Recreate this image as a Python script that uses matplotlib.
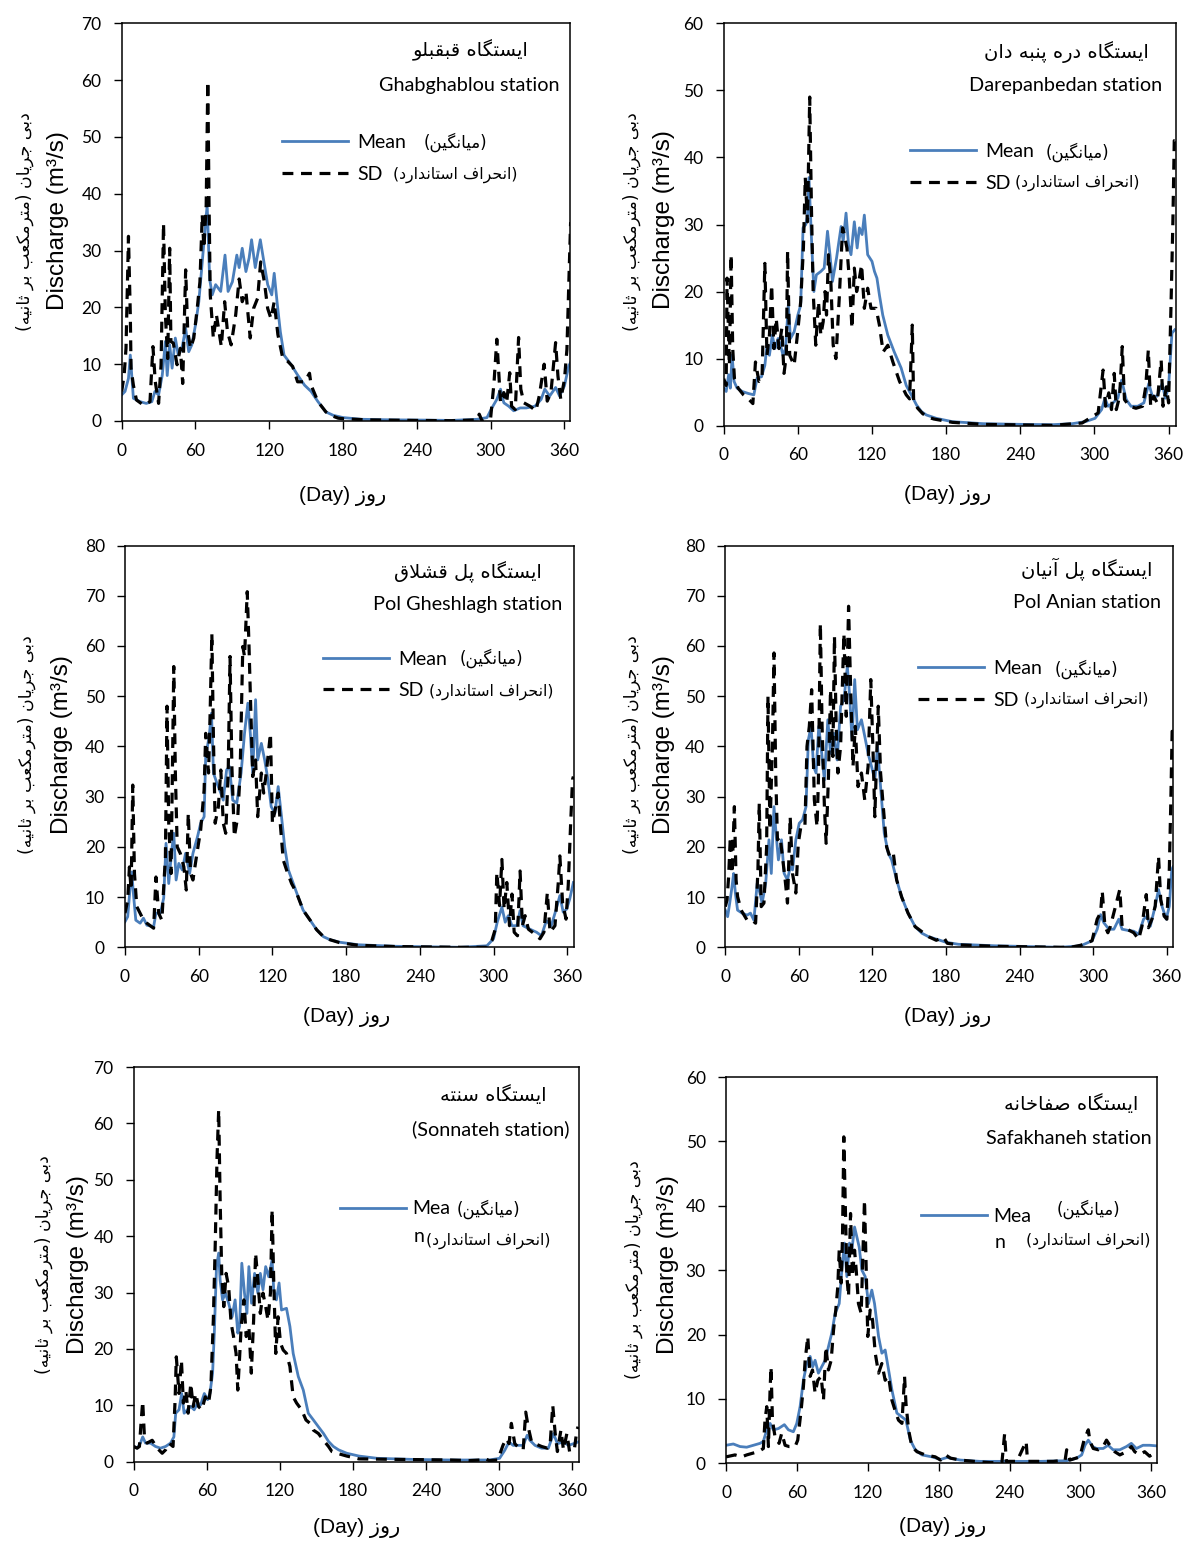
import matplotlib
matplotlib.use("Agg")
import matplotlib.pyplot as plt
from matplotlib import font_manager
from matplotlib.ft2font import FT2Font
from matplotlib.font_manager import FontProperties

W, H = 1184, 1542

# ---------------- data ----------------
ghab_mean_days = [0, 2.7, 5.5, 7, 9.5, 15, 20, 24.5, 27, 30,
                  33, 35.5, 37, 39, 41, 43.6, 46, 49, 52, 54.5,
                  57, 60, 62.7, 65.5, 67.6, 69.5, 71.5, 73.6, 76.4, 80.5,
                  84, 86.5, 90, 93.6, 95.5, 98, 101, 103.6, 105.6, 108.6,
                  112.7, 116, 118.7, 122, 124, 126.3, 129, 132, 137.8, 143,
                  148.7, 154, 159.6, 166, 172, 180, 195, 220, 250, 268,
                  289, 297, 301, 305, 308, 310.7, 314.7, 318.7, 324, 329,
                  336, 341, 344, 348, 352.8, 356, 360, 363.5, 365]
ghab_mean = [4.6, 5.2, 7.5, 11.6, 4.0, 3.4, 3.1, 3.4, 5.2, 4.6,
             8.1, 14, 8, 13.4, 9.3, 14.6, 11.6, 12.8, 16.3, 12.2,
             13.4, 16.9, 21, 28, 33.4, 38, 25, 22.2, 24, 22.8,
             29.2, 22.8, 24.5, 29.2, 27, 30.4, 26.3, 28.7, 31.9, 27,
             31.9, 27.5, 24, 22.2, 26, 21, 15.7, 11.6, 9.9, 8.1,
             6.3, 5.2, 3.4, 1.6, 1.0, 0.6, 0.3, 0.2, 0.15, 0.1,
             0.3, 0.6, 2.3, 3.8, 5.6, 3.2, 2.6, 1.8, 2.3, 2.3,
             2.6, 3.8, 5.6, 4.4, 5.9, 4.4, 6.2, 9.7, 10.3]
ghab_sd_days = [0, 2, 3.5, 5.5, 7, 7.6, 9.5, 12, 17.7, 23,
                25.4, 27.3, 30, 32, 34, 35.5, 37.4, 39, 40, 42,
                45, 47.7, 49.6, 52, 53.7, 56, 58.6, 61.4, 63.6, 65.5,
                66.8, 68.7, 70, 71, 72, 74.5, 77, 81, 83.7, 86,
                89, 92.7, 95.5, 98, 101, 104.5, 107.2, 110.5, 113, 116,
                118.7, 121.4, 124, 127, 131, 135, 139, 143, 148.7, 152.7,
                154, 159.6, 166, 170, 176, 180, 200, 240, 268, 289,
                290.7, 293, 300, 302.7, 305, 308, 310.7, 313, 315.5, 317,
                320, 322.7, 324.5, 327, 332, 336.8, 339.5, 343.5, 346, 349,
                352.8, 354.7, 357, 360, 362, 363.5, 365]
ghab_sd = [5.2, 8.1, 12.8, 32.5, 18.7, 9.3, 6.3, 3.7, 2.8, 3.4,
           13.1, 6.9, 3.1, 9.9, 34.8, 18.7, 11, 30.4, 14, 13.7,
           9.9, 12.8, 6.6, 26.6, 15.7, 12.8, 14.6, 19.8, 24.5, 36.3,
           30.4, 38, 59.8, 38.6, 22.2, 14.6, 18.7, 13.1, 21, 15.7,
           13.4, 18.7, 25, 21, 22.8, 14.6, 19.8, 21.6, 28, 24.5,
           19.8, 18, 21, 15.2, 11, 10.5, 9.6, 6.9, 6.9, 8.4,
           6.3, 3.4, 1.6, 1.0, 0.5, 0.4, 0.2, 0.1, 0.05, 0.2,
           1.2, 0, 0.6, 6.7, 14.4, 3.2, 5, 3.2, 8.5, 2.6,
           2, 14.7, 5.6, 3.2, 2.6, 1.8, 4.4, 10, 3.5, 5,
           13.8, 7.9, 3.8, 7.3, 12.6, 24, 35]

dare_mean_days = [0, 2, 4, 5.4, 6.8, 8.4, 10.8, 15, 20, 24.4,
                  27, 30.6, 33.3, 35, 37, 39.3, 41.5, 44, 46, 48,
                  50, 52.3, 54, 57, 60, 62.3, 64.2, 66.4, 67.8, 69,
                  71, 73, 75, 78.6, 81.3, 84, 86, 88, 91.3, 95,
                  96.7, 99, 101, 103, 105.7, 108, 109.8, 112, 113.8, 116.5,
                  120, 122, 124, 126, 128.7, 132.8, 138, 143.6, 147.7, 151.8,
                  156, 160, 164, 172, 185, 210, 240, 266, 282, 292.6,
                  300.5, 305.8, 308.5, 311, 315, 319, 322, 325.7, 329.6, 335,
                  340, 344, 346.8, 350.8, 354.8, 357.4, 360, 362.7, 365]
dare_mean = [5.6, 5.1, 7.6, 5.6, 10.5, 6.6, 5.6, 5.1, 4.8, 4.6,
             7.1, 7.3, 9, 12, 10.5, 13.5, 11.5, 13, 12, 10.5,
             11.5, 18, 13, 14, 16.5, 18, 29.5, 30, 31.4, 37,
             28, 20, 22.5, 23, 23.5, 29, 25.5, 21.5, 25, 29.7,
             27.5, 31.7, 27, 25.5, 30.4, 26.5, 29.5, 28.5, 31.4, 25.5,
             24.5, 23, 22, 19.5, 16.5, 13.5, 11, 8.6, 6, 4.6,
             3.1, 2.1, 1.6, 1.1, 0.6, 0.3, 0.2, 0.15, 0.3, 0.6,
             1.1, 2.4, 4.1, 2.9, 3.4, 4.1, 6.8, 3.9, 2.9, 2.9,
             3.4, 6.3, 4.4, 4.4, 6.3, 4.1, 5.8, 13.8, 14.3]
dare_sd_days = [0, 2, 2.7, 4.6, 6, 7.3, 8.7, 11.7, 16, 20,
                23.6, 25.7, 28.5, 31, 33.3, 35, 37, 38.8, 40.6, 42.5,
                44.7, 47, 48.8, 50.7, 51.7, 53.4, 57, 59.6, 62.3, 64.5,
                66, 67.8, 69.6, 71, 72.4, 74.5, 76.7, 78.6, 80.5, 82,
                83.2, 84.8, 86.7, 88.6, 90.8, 93.5, 96.2, 97.6, 99.7, 101.6,
                103.8, 105.7, 107.6, 109.8, 111.6, 113.8, 116.5, 119.2, 123.3, 126,
                129, 132.8, 136.9, 142.3, 147.7, 150.4, 152.6, 153.7, 157, 161,
                165, 170, 185, 210, 266, 290, 303, 307, 309, 311.6,
                313.8, 316, 317.7, 320.4, 322.5, 324.3, 328.3, 333.6, 338.9, 341.5,
                343.6, 345.5, 348, 350.8, 354, 355.5, 358.2, 360, 362, 363.5,
                364.6, 365]
dare_sd = [7, 6, 22, 9, 25.5, 11.5, 7, 5.6, 4.6, 4,
           3.3, 9.5, 6.6, 7, 24.2, 10.5, 13.5, 21, 11.5, 16,
           11.5, 14.5, 7.8, 10.5, 26, 10.5, 9, 13.5, 18.5, 26.5,
           37, 30.4, 49, 32.4, 20, 12, 18.5, 13.5, 15.5, 20,
           16.5, 25.5, 21.5, 12, 10, 19, 29.5, 28.5, 26.5, 22,
           14.5, 23.5, 20, 22, 24, 17.5, 20.5, 17.5, 17.5, 15,
           11, 12, 9.5, 6.6, 4.6, 4, 15, 3.6, 2.6, 1.8,
           1.3, 1.0, 0.5, 0.2, 0.05, 0.4, 1.9, 8.3, 2.9, 4.9,
           2.4, 7.8, 2.4, 4.4, 11.8, 3.9, 2.9, 2.6, 2.9, 5.8,
           11.3, 2.9, 4.4, 3.4, 9.8, 2.9, 5.8, 3.4, 18.2, 30.6,
           42.5, 42.5]

pol_mean_days = [0, 2.2, 4, 5.5, 6.8, 8.8, 12.3, 15, 17.8, 23.3,
                 25.2, 28.8, 31.5, 33.4, 35.6, 37.8, 39.7, 41.6, 43.8, 46.6,
                 49.3, 52.6, 55.3, 59, 61.6, 64.4, 65.7, 68.5, 70.4, 72,
                 74.8, 78, 80, 82.7, 85, 87.7, 91, 94.5, 97.3, 100,
                 102, 104, 106.3, 108, 111, 113.7, 116.4, 119, 122, 124.7,
                 127.4, 130, 133, 137, 141, 145, 150.7, 156, 161.6, 167,
                 175, 190, 220, 273, 294.6, 300, 303, 306.8, 309.5, 312,
                 315, 319, 321.6, 324, 329.7, 335, 339, 343, 347, 351,
                 354, 356.7, 359.5, 362, 365]
pol_mean = [5.1, 6.1, 11.4, 15, 10.8, 5.4, 4.8, 5.8, 4.4, 4.1,
            6.8, 6.8, 9.8, 20.7, 12.7, 18.7, 22.7, 13.4, 16.7, 15.4,
            18.7, 14.7, 18.7, 22, 24.7, 26, 38, 42, 46.6, 34.7,
            32.7, 30.7, 29.3, 35.3, 36, 29.3, 28.7, 34.7, 42.6, 48.6,
            42.6, 34.7, 49.3, 37.3, 40.6, 37.3, 33.3, 28, 26.7, 32,
            26, 20, 15.4, 12.7, 10, 7.4, 5.4, 3.5, 2.1, 1.5,
            1.0, 0.5, 0.2, 0, 0.3, 1.7, 5, 8, 5, 6.3,
            4.3, 4.3, 7.3, 4.3, 3.6, 3, 2.3, 5.3, 4.3, 7.6,
            10.3, 7, 7.6, 9.6, 12.9]
pol_sd_days = [0, 2.2, 3.6, 5, 6.3, 7.7, 9.6, 13.7, 17.8, 23.3,
               25.2, 27.4, 30, 32.9, 34.2, 35.6, 37.5, 39.7, 41, 42.5,
               45, 47.9, 49.9, 51.5, 53.4, 55.3, 59, 61.6, 64.4, 65.7,
               68, 69.3, 70.7, 72, 73.4, 76, 78, 80, 82, 84,
               85.5, 87, 89, 91.8, 93.7, 95.9, 97.3, 99.5, 100.8, 102,
               104, 106.3, 108, 111, 112.9, 115, 118.4, 120, 122.7, 124.7,
               126.6, 128.8, 131.5, 135.6, 139.7, 145, 150.7, 156, 161.6, 167,
               175, 190, 220, 273, 294.6, 298.6, 301.4, 302.7, 304.9, 306.8,
               308.6, 310.8, 313, 315, 316.8, 319.5, 321.6, 323.5, 325.7, 328.4,
               333.8, 337.8, 341, 343.8, 346, 350, 352.7, 354, 356.2, 359,
               360.8, 362.7, 364.3, 365]
pol_sd = [6.8, 9.4, 16, 11.4, 32.3, 14.7, 8.1, 6.1, 4.8, 3.8,
          14, 6.8, 5.4, 18, 48, 24.7, 14.7, 55.9, 34.7, 20,
          18.7, 16, 11.4, 26.7, 14.7, 13.4, 19.4, 23.4, 31.3, 42.6,
          34.7, 46.6, 62.5, 41.3, 24.7, 28, 35.3, 24.7, 22.7, 34.7,
          57.9, 36, 22, 26, 34.7, 59.9, 57.9, 70.8, 61.2, 50.6,
          34, 37.3, 26, 34.7, 30.7, 34.7, 42.6, 24.7, 28, 30.7,
          24, 17.4, 15.4, 12.7, 10.8, 7.4, 5.4, 3.5, 2.1, 1.5,
          0.9, 0.4, 0.15, 0, 0, 1.3, 3.6, 14.9, 8.3, 17.5,
          7.6, 12.9, 4.3, 10.6, 3, 2.3, 15.2, 4.3, 6.3, 3.6,
          2.6, 1.7, 3, 10.9, 3, 4.3, 12.9, 18.2, 8.9, 5.6,
          12.3, 24.2, 33.4, 34]

anian_mean_days = [0, 1.9, 3.6, 5.5, 6.8, 8.2, 10, 13.7, 17.8, 20.5,
                   23.3, 26, 28.2, 30, 32.9, 35.6, 37.5, 39.7, 41.6, 43.3,
                   45.8, 48, 50.7, 52.9, 54.8, 57.5, 60.3, 63, 65.8, 67.7,
                   69.9, 72, 74, 76.2, 78.6, 80.8, 83.6, 85.8, 88.5, 91.2,
                   94, 96.7, 99.5, 101.4, 103.3, 105.5, 107.7, 111, 113.7, 116.4,
                   119.2, 121.9, 124.1, 126.8, 129.6, 132.9, 135.6, 139.7, 143.8, 149,
                   154.8, 160.3, 165.8, 175, 180, 190, 220, 273.5, 289.7, 299,
                   303.2, 306, 308.6, 312.7, 316.8, 320.8, 323.5, 327.6, 333, 337,
                   341, 343.8, 346.5, 350.5, 353.2, 356, 359.5, 362, 364, 365]
anian_mean = [7.4, 6.1, 8.8, 12.1, 14.7, 10.8, 7.4, 6.8, 6.4, 6.8,
              5.4, 12.7, 10.8, 8.8, 12.7, 21.4, 14.7, 28, 22, 17.4,
              21.4, 14.7, 13.4, 16, 15.4, 21.4, 24.7, 25.4, 28, 41.3,
              44, 36, 34.7, 44, 38.6, 33.3, 45.3, 38.6, 42.6, 37.3,
              48, 49.3, 55.9, 50, 41.3, 53.3, 43.3, 45.3, 42, 38.6,
              36, 33.3, 40, 31.3, 22.7, 18.7, 17.4, 13.4, 10, 6.8,
              4.1, 2.8, 2.1, 1.4, 1.0, 0.6, 0.3, 0, 0.3, 1.3,
              3.6, 6.5, 4.9, 3.6, 3.6, 5.6, 3.6, 3.4, 3.2, 2.6,
              5.6, 6.2, 4.2, 8.2, 11.5, 8.2, 5.6, 8.2, 15.5, 16]
anian_sd_days = [0, 1.4, 2.7, 4.1, 5.5, 7.4, 8.8, 10, 12.9, 17.8,
                 21.9, 24.7, 26.6, 27.7, 29.3, 31.5, 33.7, 34.8, 36.4, 38.4,
                 39.7, 41.1, 42.5, 44.7, 46.6, 48.8, 50.7, 52.9, 54.8, 57.5,
                 59.5, 61.6, 64.9, 66.6, 68.5, 70.4, 72.6, 74.8, 75.9, 77.5,
                 78.9, 80.8, 82.2, 84.1, 85.8, 87.7, 89, 90.4, 91.8, 94,
                 96.7, 98.6, 100.5, 102.2, 104.1, 106, 108.2, 111, 113.7, 116.4,
                 118.6, 120.5, 121.9, 124.7, 126.6, 128.8, 131.5, 134.2, 137, 139.7,
                 143.8, 149, 154.8, 160.3, 165.8, 172, 178, 181, 190, 220,
                 273.5, 281.6, 289.7, 299, 303.2, 306, 307.3, 309.5, 311.9, 314,
                 321.6, 323.5, 327.6, 333, 337, 339.7, 343.2, 345, 347.8, 350.5,
                 353.2, 355, 357.8, 360, 362, 363.2, 364.3, 365]
anian_sd = [8.1, 9.4, 14, 22, 14.7, 28, 13.4, 10.1, 7.4, 5.4,
            5.4, 4.8, 15.4, 28.7, 8.1, 8.8, 20, 50, 23.4, 40,
            58.6, 34.7, 21.4, 22, 18, 13.4, 8.8, 26, 14.7, 10.8,
            20.7, 24, 24, 40, 44, 51.3, 29.3, 24, 33.3, 64.5,
            44, 28, 20.7, 34, 51.3, 38, 61.9, 44, 34.7, 40,
            62.5, 46, 67.9, 51.3, 36, 44, 32, 34.7, 29.3, 36,
            53.3, 38.6, 26, 48, 34.7, 28, 20, 18, 18.7, 13.4,
            10, 6.8, 4.1, 3.1, 2.1, 1.4, 2.0, 0.8, 0.5, 0.2,
            0, 0, 0.4, 1.3, 5.6, 6.9, 11.2, 4.2, 2.9, 4.2,
            11.5, 4.2, 3.6, 2.9, 1.6, 4.2, 10.5, 3.9, 5.6, 8.2,
            18.1, 9.5, 6.2, 5.6, 15.5, 28.7, 43, 43]

sonn_mean_days = [0, 2.8, 5.5, 7.4, 9.7, 13.8, 17.9, 22, 26.2, 30.3,
                  33, 34.5, 37.2, 39.4, 41.4, 44, 46.9, 49.7, 52.4, 55,
                  58, 60.7, 62.6, 64.8, 66.2, 68, 69.8, 71, 73, 75.3,
                  78, 80.8, 83.3, 85.5, 87, 88.8, 91, 93, 94.6, 96.8,
                  99.3, 102, 104, 106.2, 108.4, 110.9, 113.7, 115, 117.2, 119.4,
                  121.4, 125.5, 128.3, 131, 135.2, 139.3, 143.4, 147.6, 151.7, 155.9,
                  160, 164, 168.3, 175, 185, 200, 230, 260, 292, 300.5,
                  304.7, 308.3, 311.6, 315.8, 319.9, 323.2, 325.4, 329.6, 335, 340.6,
                  344.8, 348, 353, 357, 361.4, 365]
sonn_mean = [2.7, 2.4, 3.3, 4.4, 3.3, 3.3, 2.7, 2.4, 2.7, 3.3,
             4.4, 8.6, 9.2, 12.1, 8.6, 9.2, 9.8, 9.2, 10.4, 10.1,
             12.1, 11, 12.1, 15.7, 22.8, 34.6, 37, 32.2, 28.7, 29.9,
             28.1, 25.7, 28.7, 22.8, 24, 35.2, 29.9, 26.3, 34.6, 28.1,
             33.4, 29.9, 33.4, 30.5, 34.6, 32.8, 35.8, 30.5, 28.7, 31.7,
             26.9, 27.2, 24, 19.2, 15.1, 12.7, 8.6, 7.4, 6.2, 5,
             3.6, 2.7, 2.1, 1.5, 1.0, 0.6, 0.4, 0.3, 0.3, 0.6,
             2, 3.5, 2.9, 2.9, 2.9, 4.7, 3.8, 2.9, 2.4, 2.4,
             5, 3.2, 3.5, 2.9, 3.2, 3.5]
sonn_sd_days = [0, 2.8, 4.7, 6, 7.4, 8.8, 11, 15.2, 19.3, 23.4,
                26.2, 29, 32.3, 34, 35, 37.2, 39.2, 40.8, 42.8, 44.7,
                46.9, 48.8, 51, 53.2, 56, 58.8, 61.5, 63.4, 65.4, 67,
                68.4, 69.8, 71, 72.3, 74, 75.9, 78, 80, 82, 84.1,
                85.5, 87, 88.3, 90.5, 92.4, 94.6, 96.6, 98.5, 100.1, 102,
                104, 106.2, 108.4, 110.3, 112.3, 113.7, 115, 116.7, 118.6, 120.6,
                122.8, 125.5, 128.3, 131, 133.8, 137.9, 141.5, 144.8, 147.6, 151.7,
                155.9, 160, 162.8, 166.9, 175, 185, 220, 260, 275.7, 284,
                288, 292, 299, 303.3, 306, 308.3, 310.2, 313, 316.6, 319.9,
                322, 324, 326.8, 329.6, 335, 339.8, 342, 344.2, 346.2, 348,
                350.9, 353, 355.8, 358, 361.9, 364, 365]
sonn_sd = [2.7, 2.4, 2.7, 6.8, 10.7, 4.4, 3.3, 3.8, 2.4, 1.5,
           2.1, 3.3, 2.7, 10.9, 18.6, 12.1, 18, 10.4, 12.7, 8.6,
           13.9, 9.8, 12.1, 9.8, 9.2, 11.5, 10.4, 13.3, 25.1, 38.8,
           53.6, 62.4, 46.4, 33.4, 27.5, 33.4, 31, 24.6, 22.2, 19.2,
           12.7, 18.6, 24, 28.7, 22.2, 24, 15.7, 25.1, 37, 32.2,
           26.3, 29.9, 27.5, 25.1, 29.9, 44.7, 32.2, 19.2, 25.7, 21,
           19.8, 19.2, 16.9, 11.5, 10.4, 9.2, 7.4, 6.8, 5.6, 5,
           3.8, 2.7, 1.8, 1.5, 1.0, 0.5, 0.4, 0.3, 0.2, 0.3,
           0.6, 0.2, 0.3, 2.9, 4.1, 3.2, 6.8, 3.2, 2.4, 2.1,
           8.8, 6.2, 3.5, 3.2, 2.7, 2.4, 2.9, 10, 5, 1.8,
           5.6, 2.1, 5, 1.8, 2.1, 5.6, 6.2]

safa_mean_days = [0, 6.2, 11.9, 17.5, 23.2, 28.8, 31.6, 34.5, 37.3, 40.1,
                  44.4, 49.4, 52.8, 57, 59.9, 62.7, 65.5, 68.4, 71.2, 73.4,
                  75.4, 78.2, 81, 83.9, 86.7, 89.5, 92.4, 95.8, 98, 100.3,
                  102.3, 104.5, 106.5, 108.8, 110.7, 112.7, 115, 117.8, 120.6, 123.4,
                  125.7, 129.1, 131.9, 134.7, 137.6, 140.4, 144.6, 148.9, 152.3, 156,
                  160.2, 165.8, 174.3, 181.6, 187, 198.4, 215, 237.8, 266, 288.3,
                  296.7, 301, 303.8, 306.6, 310.2, 313.6, 319.2, 323.4, 327.6, 333.3,
                  338.9, 343, 347.3, 352.9, 358.5, 365]
safa_mean = [2.8, 3, 2.6, 2.5, 2.8, 3.1, 3.4, 5.2, 6.2, 5.2,
             5.4, 6, 5.2, 4.9, 6.2, 8.8, 12.9, 15.5, 16.6, 15,
             16, 14, 15, 16, 18.1, 20.2, 23.3, 24.8, 30, 34.2,
             29, 34.2, 33.1, 36.7, 35.2, 33.6, 30, 29, 24.8, 26.9,
             24.8, 19.7, 17.1, 17.6, 14.5, 11.4, 7.8, 7.2, 6.7, 3.6,
             2.1, 1.3, 1, 0.6, 0.9, 0.5, 0.3, 0.3, 0.3, 0.4,
             0.8, 1.3, 2.8, 3.6, 2.6, 2.3, 2.3, 2.8, 2.1, 2.1,
             2.6, 3.1, 2.3, 2.8, 2.8, 2.7]
safa_sd_days = [0, 7.6, 13.3, 17.5, 23.2, 27.4, 31.6, 33, 34.5, 35.9,
                37.3, 38.1, 39.3, 41.5, 44.9, 47.2, 50, 53.4, 58.5, 60.7,
                63.6, 65.5, 67, 69.2, 71.2, 73.2, 75.4, 77.7, 80.5, 82.5,
                84.5, 86.7, 89, 91, 92.9, 94.6, 95.8, 97.5, 98.6, 99.7,
                100.8, 102.3, 103.7, 105.4, 107, 108.8, 110.2, 112.1, 114.4, 115.8,
                117.2, 118.4, 120, 122, 124, 126.3, 129.1, 131.9, 134.7, 137.6,
                140.4, 143.8, 146, 148.9, 151.1, 152.3, 154.5, 157.3, 161.6, 168.6,
                177.1, 181.6, 185.8, 190, 198.4, 209.7, 223.7, 233.5, 235.8, 237.2,
                246.2, 254, 255.2, 265.8, 277, 287, 288.3, 291, 299.5, 303,
                306.6, 308, 310.8, 315, 319.2, 322, 324.8, 329, 333.3, 338.9,
                343, 345.9, 350, 354.3, 358.5, 361.3, 365]
safa_sd = [1, 1.3, 1, 1.3, 1.6, 1.8, 2.3, 6.7, 8.8, 2.6,
           11.4, 15, 6.7, 4.1, 3.1, 4.7, 2.8, 2.6, 2.6, 3.6,
           8.3, 11.9, 16, 19.7, 13.5, 14.5, 10.9, 12.9, 13.5, 9.8,
           18.1, 14.5, 16, 20.7, 23.8, 27.4, 33.1, 28, 35.2, 50.7,
           41.4, 29, 25.9, 38.8, 29, 33.1, 30, 24.8, 23.3, 32.1,
           40.9, 32.1, 19.7, 23.8, 22.3, 17.1, 14, 15.5, 12.9, 13.5,
           9.8, 7.8, 6.7, 6.2, 13.5, 9.3, 5.2, 2.6, 1.8, 1.3,
           1, 0.5, 1.3, 0.8, 0.5, 0.3, 0.1, 0.1, 4.6, 0.3,
           0.3, 3.4, 0.3, 0.3, 0.3, 0.5, 2.1, 0.5, 1, 3.6,
           5.2, 3.4, 2.3, 2.1, 2.6, 3.6, 2.8, 1.8, 1.3, 1.8,
           2.6, 1.8, 1.3, 1.8, 1.1, 1.5, 1]

station_fa = ["ایستگاه قبقبلو", "ایستگاه دره پنبه دان", "ایستگاه پل قشلاق",
              "ایستگاه پل آنیان", "ایستگاه سنته", "ایستگاه صفاخانه"]
station_en = ["Ghabghablou station", "Darepanbedan station", "Pol Gheshlagh station",
              "Pol Anian station", "(Sonnateh station)", "Safakhaneh station"]
y_max = [70, 60, 80, 80, 70, 60]

series = [
    (ghab_mean_days, ghab_mean, ghab_sd_days, ghab_sd),
    (dare_mean_days, dare_mean, dare_sd_days, dare_sd),
    (pol_mean_days, pol_mean, pol_sd_days, pol_sd),
    (anian_mean_days, anian_mean, anian_sd_days, anian_sd),
    (sonn_mean_days, sonn_mean, sonn_sd_days, sonn_sd),
    (safa_mean_days, safa_mean, safa_sd_days, safa_sd),
]

# ---------------- Persian shaping (no bidi engine in matplotlib) ----------------
FORMS = {  # isolated, final, initial, medial
    'ا': ('\uFE8D', '\uFE8E', None, None), 'آ': ('\uFE81', '\uFE82', None, None),
    'ب': ('\uFE8F', '\uFE90', '\uFE91', '\uFE92'), 'پ': ('\uFB56', '\uFB57', '\uFB58', '\uFB59'),
    'ت': ('\uFE95', '\uFE96', '\uFE97', '\uFE98'), 'ث': ('\uFE99', '\uFE9A', '\uFE9B', '\uFE9C'),
    'ج': ('\uFE9D', '\uFE9E', '\uFE9F', '\uFEA0'), 'ح': ('\uFEA1', '\uFEA2', '\uFEA3', '\uFEA4'),
    'خ': ('\uFEA5', '\uFEA6', '\uFEA7', '\uFEA8'), 'د': ('\uFEA9', '\uFEAA', None, None),
    'ر': ('\uFEAD', '\uFEAE', None, None), 'ز': ('\uFEAF', '\uFEB0', None, None),
    'س': ('\uFEB1', '\uFEB2', '\uFEB3', '\uFEB4'), 'ش': ('\uFEB5', '\uFEB6', '\uFEB7', '\uFEB8'),
    'ص': ('\uFEB9', '\uFEBA', '\uFEBB', '\uFEBC'), 'ع': ('\uFEC9', '\uFECA', '\uFECB', '\uFECC'),
    'ف': ('\uFED1', '\uFED2', '\uFED3', '\uFED4'), 'ق': ('\uFED5', '\uFED6', '\uFED7', '\uFED8'),
    'ک': ('\uFB8E', '\uFB8F', '\uFB90', '\uFB91'), 'گ': ('\uFB92', '\uFB93', '\uFB94', '\uFB95'),
    'ل': ('\uFEDD', '\uFEDE', '\uFEDF', '\uFEE0'), 'م': ('\uFEE1', '\uFEE2', '\uFEE3', '\uFEE4'),
    'ن': ('\uFEE5', '\uFEE6', '\uFEE7', '\uFEE8'), 'ه': ('\uFEE9', '\uFEEA', '\uFEEB', '\uFEEC'),
    'و': ('\uFEED', '\uFEEE', None, None), 'ی': ('\uFBFC', '\uFBFD', '\uFBFE', '\uFBFF'),
}
FALLBACK = {'ی': ('\uFEEF', '\uFEF0', '\uFEF3', '\uFEF4'),
            'ک': ('\uFED9', '\uFEDA', '\uFEDB', '\uFEDC'),
            'گ': ('\uFED9', '\uFEDA', '\uFEDB', '\uFEDC'),
            'پ': ('\uFE8F', '\uFE90', '\uFE91', '\uFE92')}
cmap = FT2Font(font_manager.findfont("DejaVu Sans")).get_charmap()
for k, forms in list(FORMS.items()):
    if any(f is not None and ord(f) not in cmap for f in forms):
        FORMS[k] = FALLBACK.get(k, forms)


def shape(text):
    out = []
    i = 0
    n = len(text)
    while i < n:
        ch = text[i]
        if ch not in FORMS:
            out.append(ch)
            i += 1
            continue
        prev = text[i - 1] if i > 0 else ''
        jp = prev in FORMS and FORMS[prev][2] is not None
        nxt = text[i + 1] if i + 1 < n else ''
        if ch == 'ل' and nxt in ('ا', 'آ'):
            lig = ('\uFEFB', '\uFEFC') if nxt == 'ا' else ('\uFEF5', '\uFEF6')
            out.append(lig[1] if jp else lig[0])
            i += 2
            continue
        f = FORMS[ch]
        jn = f[2] is not None and nxt in FORMS
        if jp and jn:
            out.append(f[3])
        elif jp:
            out.append(f[1])
        elif jn:
            out.append(f[2])
        else:
            out.append(f[0])
        i += 1
    return ''.join(out)[::-1].translate(str.maketrans('()', ')('))


# ---------------- figure ----------------
plt.rcParams['font.family'] = ['Lato', 'DejaVu Sans']
fig = plt.figure(figsize=(W / 100, H / 100), dpi=100)

BLUE = '#4a7ebb'
FA = ['DejaVu Sans']
AR = ['Liberation Sans', 'DejaVu Sans']


def fx(x):
    return x / W


def fy(y):
    return 1 - y / H


def ftext(x, y, s, **kw):
    kw.setdefault('ha', 'center')
    kw.setdefault('va', 'center')
    fig.text(fx(x), fy(y), s, **kw)


# axes boxes in pixels: left, top, right, bottom
boxes = [(121.7, 23.3, 570, 421), (723.7, 23.3, 1176, 425.7),
         (125, 545.5, 574, 947.3), (725.3, 545.5, 1173, 947.3),
         (133.7, 1067, 579.3, 1461.7), (726, 1077, 1157.3, 1463.3)]
x_max = [364.5, 366, 365.5, 365, 366, 365]

# text anchors (pixels)
title_fa_xy = [(471, 50), (1066, 52), (468, 572), (1087, 569), (493, 1095), (1071, 1104)]
title_en_xy = [(469, 86), (1066, 86), (468, 605), (1087, 603), (491, 1129), (1069, 1139)]
leg_xy = [(282, 142, 175), (910, 152, 183), (323, 658, 692), (918, 669, 700),
          (340, 1209, None), (921, 1216, None)]
mean_fa_xy = [(455, 142), (1077, 152), (491, 658), (1086, 669), (488, 1209), (1088, 1209)]
sd_fa_xy = [(455, 175), (1077, 183), (491, 692), (1086, 700), (488, 1241), (1088, 1241)]
ylab_en_xy = [(58, 221), (664, 220), (62, 745), (664, 745), (78, 1265), (668, 1265)]
ylab_fa_xy = [(25, 222), (632, 222), (27, 745), (632, 745), (44, 1265), (634, 1270)]
xlab_xy = [(343, 496), (948, 495), (347, 1017), (948, 1017), (357, 1528), (943, 1527)]

leg_prop = FontProperties(family='Lato', size=14)

for k in range(6):
    l, t, r, b = boxes[k]
    ax = fig.add_axes([fx(l), 1 - b / H, (r - l) / W, (b - t) / H])
    md, mv, sdd, sdv = series[k]
    h_mean, = ax.plot(md, mv, color=BLUE, lw=2.0, solid_joinstyle='round')
    h_sd, = ax.plot(sdd, sdv, color='black', lw=2.3, dashes=(3.4, 2.4))
    ax.set_xlim(0, x_max[k])
    ax.set_ylim(0, y_max[k])
    ax.set_xticks(range(0, 361, 60))
    ax.set_yticks(range(0, y_max[k] + 1, 10))
    for s in ax.spines.values():
        s.set_linewidth(1.1)
    ax.tick_params(axis='both', direction='out', length=5.5, width=1.0, labelsize=12.5)
    ax.tick_params(axis='x', pad=10)
    ax.tick_params(axis='y', pad=9)

    lx, ly1, ly2 = leg_xy[k]
    if ly2 is not None:
        ax.legend([h_mean, h_sd], ['Mean', 'SD'], loc='center left',
                  bbox_to_anchor=(fx(lx), fy((ly1 + ly2) / 2)), bbox_transform=fig.transFigure,
                  frameon=False, borderpad=0, borderaxespad=0, handlelength=3.4,
                  handletextpad=0.45, labelspacing=0.75, prop=leg_prop)
    else:
        ax.legend([h_mean], ['Mea'], loc='center left',
                  bbox_to_anchor=(fx(lx), fy(ly1)), bbox_transform=fig.transFigure,
                  frameon=False, borderpad=0, borderaxespad=0, handlelength=3.4,
                  handletextpad=0.3, prop=leg_prop)
        ftext(lx + 79, ly1 + 27, 'n', fontsize=14, family='Lato')

    ftext(*title_fa_xy[k], shape(station_fa[k]), fontsize=14, family=FA)
    ftext(*title_en_xy[k], station_en[k], fontsize=14.3, family='Lato')
    ftext(*mean_fa_xy[k], shape('(میانگین)'), fontsize=12, family=FA)
    ftext(*sd_fa_xy[k], shape('(انحراف استاندارد)'), fontsize=11.3, family=FA)
    ftext(*ylab_en_xy[k], 'Discharge (m³/s)', fontsize=17.5, family=AR, rotation=90)
    ftext(*ylab_fa_xy[k], shape('دبی جریان (مترمکعب بر ثانیه)'), fontsize=12.5,
          family=FA, rotation=90)
    ftext(*xlab_xy[k], '(Day) ' + shape('روز'), fontsize=15, family=AR)

fig.savefig('out.png', dpi=100)
